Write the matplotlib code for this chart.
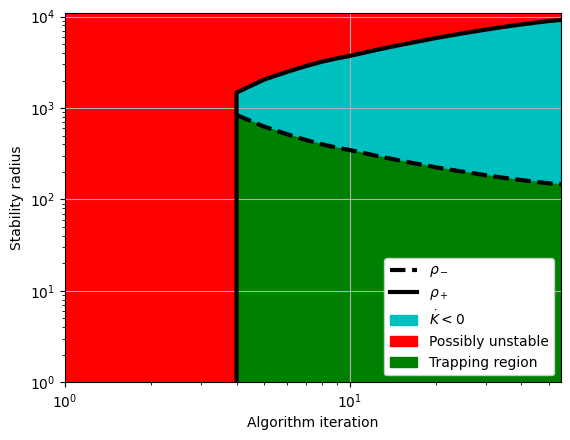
import numpy as np
import matplotlib
matplotlib.use("Agg")
import matplotlib.pyplot as plt
from matplotlib.lines import Line2D
from matplotlib.patches import Patch

# Data
x_all = [1, 55]                      # x range of the "possibly unstable" background
y_range = [1, 1.09e4]                # y extent of the plot
x_iter = [4, 5, 6, 7, 8, 9, 10, 12, 15, 20, 25, 30, 35, 40, 45, 50, 55]
rho_plus = [1475, 2050, 2480, 2875, 3220, 3490, 3720, 4230, 4900, 5820,
            6580, 7210, 7760, 8210, 8600, 8950, 9200]
rho_minus = [840, 627, 519, 448, 400, 369, 347, 307, 266, 225,
             201, 184, 172, 163, 156, 150, 147]

labels = [r'$\rho_-$', r'$\rho_+$', r'$\dot{K} < 0$', 'Possibly unstable', 'Trapping region']

fig = plt.figure(figsize=(5.7, 4.4), dpi=100)
ax = fig.add_axes([0.114, 0.131, 0.870, 0.839])
ax.set_xscale('log')
ax.set_yscale('log')

xi = np.array(x_iter)
rp = np.array(rho_plus)
rm = np.array(rho_minus)

ax.fill_between(x_all, y_range[0], y_range[1], color='red')
ax.fill_between(xi, rm, rp, color='c')
ax.fill_between(xi, y_range[0], rm, color='g')

ax.plot(xi, rm, 'k--', lw=3)
ax.plot(np.concatenate([[xi[0]], xi]), np.concatenate([[y_range[0]], rp]), 'k-', lw=3)

ax.set_xlim(x_all)
ax.set_ylim(y_range)
ax.grid(True)
ax.set_xlabel('Algorithm iteration')
ax.set_ylabel('Stability radius')

handles = [Line2D([], [], color='k', ls='--', lw=3),
           Line2D([], [], color='k', ls='-', lw=3),
           Patch(color='c'), Patch(color='red'), Patch(color='g')]
ax.legend(handles, labels, loc='lower right', framealpha=1)

fig.savefig('out.png', dpi=100)
